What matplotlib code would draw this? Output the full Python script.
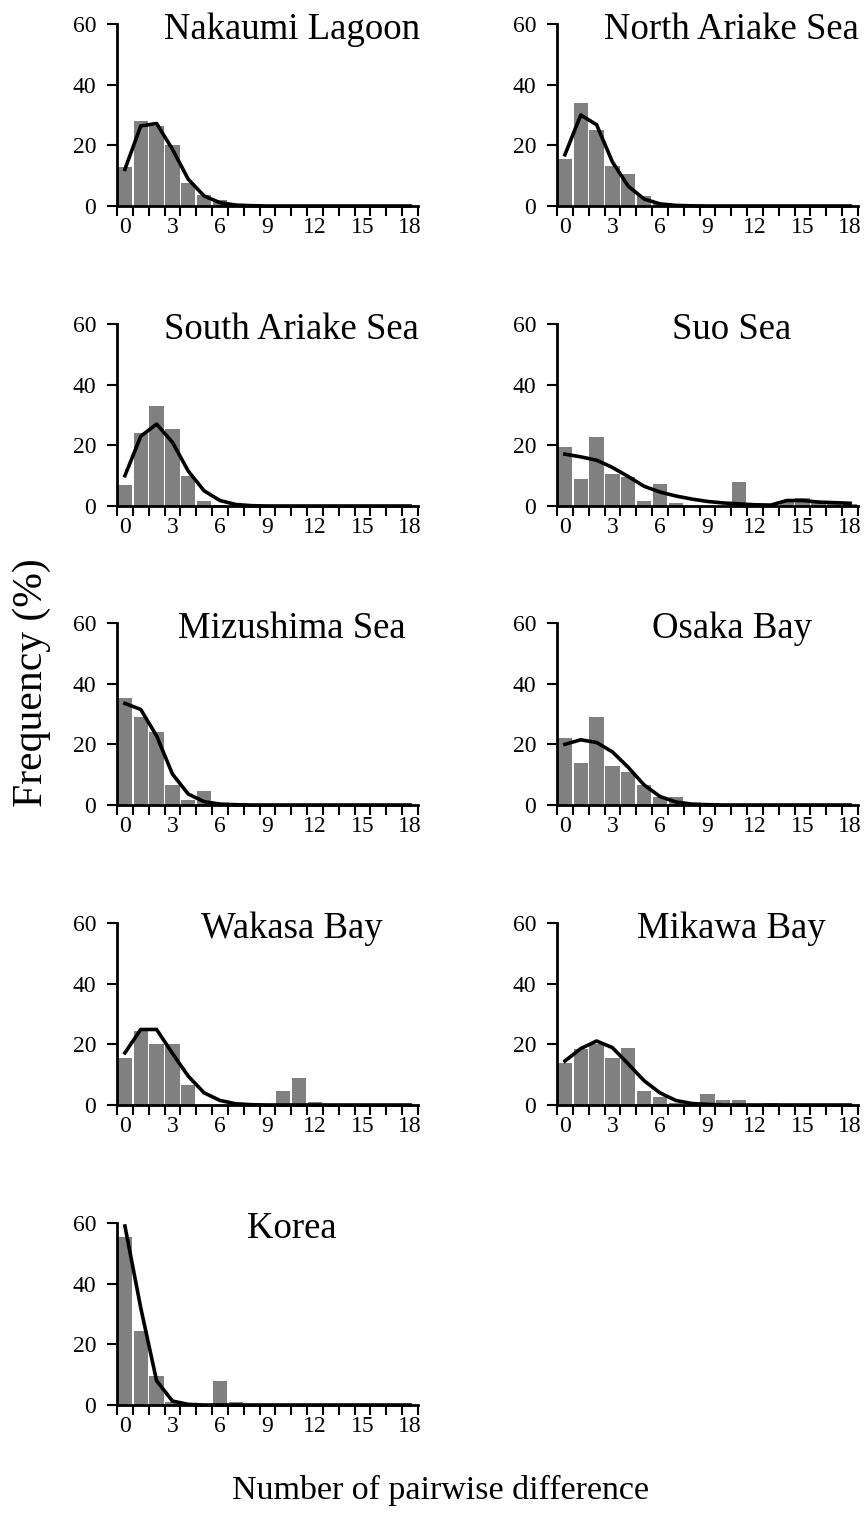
import matplotlib.pyplot as plt

plt.rcParams['font.family'] = ['Liberation Serif', 'DejaVu Serif']

# number of pairwise differences (categories)
diffs = list(range(19))
tick_labels = ['0', '3', '6', '9', '12', '15', '18']

sites = ['Nakaumi Lagoon', 'North Ariake Sea', 'South Ariake Sea', 'Suo Sea',
         'Mizushima Sea', 'Osaka Bay', 'Wakasa Bay', 'Mikawa Bay', 'Korea']

# observed frequency (%) - bars
nakaumi_obs = [12.7, 28.0, 26.4, 20.0, 7.7, 3.5, 2.0, 0.3, 0, 0, 0, 0, 0, 0, 0, 0, 0, 0, 0]
north_ariake_obs = [15.4, 34.1, 25.0, 13.2, 10.5, 3.3, 0.5, 0, 0, 0, 0, 0, 0, 0, 0, 0, 0, 0, 0]
south_ariake_obs = [7.0, 24.0, 33.0, 25.5, 10.0, 1.5, 0.3, 0, 0, 0, 0, 0, 0, 0, 0, 0, 0, 0, 0]
suo_obs = [19.3, 8.8, 22.9, 10.7, 9.6, 1.7, 7.1, 0.9, 0, 0, 0, 7.8, 0.2, 0, 1.5, 2.5, 1.2, 0.8, 0.8]
mizushima_obs = [35.4, 29.1, 24.1, 6.7, 1.6, 4.5, 0, 0, 0, 0, 0, 0, 0, 0, 0, 0, 0, 0, 0]
osaka_obs = [22.2, 14.0, 29.1, 12.9, 11.0, 6.6, 2.5, 2.5, 0, 0, 0, 0, 0, 0, 0, 0, 0, 0, 0]
wakasa_obs = [15.6, 24.5, 20.0, 20.0, 6.5, 0, 0, 0, 0, 0, 4.5, 9.0, 1.0, 0, 0, 0, 0, 0, 0]
mikawa_obs = [14.0, 18.6, 20.0, 15.4, 18.9, 4.5, 2.5, 0.5, 0, 3.5, 1.5, 1.5, 0, 0.5, 0, 0, 0, 0, 0]
korea_obs = [55.5, 24.5, 9.7, 1.0, 0, 0, 8.0, 1.0, 0.3, 0, 0, 0, 0, 0, 0, 0, 0, 0, 0]

# expected frequency (%) - lines
nakaumi_exp = [12.1, 26.4, 27.2, 18.7, 8.8, 3.3, 1.1, 0.3, 0.1, 0, 0, 0, 0, 0, 0, 0, 0, 0, 0]
north_ariake_exp = [16.9, 30.0, 26.8, 14.5, 6.5, 2.3, 0.7, 0.2, 0.05, 0, 0, 0, 0, 0, 0, 0, 0, 0, 0]
south_ariake_exp = [10.0, 23.0, 27.0, 21.0, 11.5, 5.0, 1.8, 0.5, 0.1, 0, 0, 0, 0, 0, 0, 0, 0, 0, 0]
suo_exp = [17.1, 16.2, 15.1, 12.7, 9.7, 6.5, 4.6, 3.3, 2.3, 1.5, 1.0, 0.7, 0.4, 0.3, 1.8, 1.8, 1.3, 1.1, 0.9]
mizushima_exp = [33.5, 31.5, 22.8, 10.2, 3.6, 1.1, 0.3, 0.1, 0, 0, 0, 0, 0, 0, 0, 0, 0, 0, 0]
osaka_exp = [20.0, 21.5, 20.6, 17.5, 12.4, 6.6, 2.8, 1.0, 0.3, 0.1, 0, 0, 0, 0, 0, 0, 0, 0, 0]
wakasa_exp = [17.2, 24.9, 24.9, 17.0, 9.5, 4.0, 1.5, 0.4, 0.1, 0, 0, 0, 0, 0, 0, 0, 0, 0, 0]
mikawa_exp = [14.5, 18.6, 21.1, 18.9, 13.5, 8.0, 4.0, 1.5, 0.5, 0.2, 0, 0, 0, 0, 0, 0, 0, 0, 0]
korea_exp = [59.0, 32.0, 8.0, 1.3, 0.2, 0, 0, 0, 0, 0, 0, 0, 0, 0, 0, 0, 0, 0, 0]

observed = [nakaumi_obs, north_ariake_obs, south_ariake_obs, suo_obs, mizushima_obs,
            osaka_obs, wakasa_obs, mikawa_obs, korea_obs]
expected = [nakaumi_exp, north_ariake_exp, south_ariake_exp, suo_exp, mizushima_exp,
            osaka_exp, wakasa_exp, mikawa_exp, korea_exp]

W, H = 868, 1524
fig = plt.figure(figsize=(W / 100, H / 100), dpi=100)

col_left = [117, 557]
row_top = [24, 324, 623, 923, 1223]
ax_w, ax_h = 301, 182

for i, site in enumerate(sites):
    r, c = divmod(i, 2)
    x0 = col_left[c] / W
    y0 = 1 - (row_top[r] + ax_h) / H
    ax = fig.add_axes([x0, y0, ax_w / W, ax_h / H])

    ax.bar(diffs, observed[i], width=0.9, color='#808080', zorder=1)
    ax.plot(diffs, expected[i], color='black', lw=2.6, zorder=2, clip_on=False)

    ax.set_xlim(-0.5, 18.5)
    ax.set_ylim(0, 60)
    ax.set_yticks([0, 20, 40, 60])
    ax.set_xticks(diffs[::3])
    ax.set_xticklabels(tick_labels)
    ax.set_xticks([d - 0.5 for d in diffs] + [18.5], minor=True)
    ax.tick_params(axis='x', which='major', length=0, pad=8, labelsize=17)
    ax.tick_params(axis='x', which='minor', length=7, width=1.5, direction='out')
    ax.tick_params(axis='y', length=7, width=1.5, pad=8, labelsize=17)

    for s in ['top', 'right']:
        ax.spines[s].set_visible(False)
    for s in ['left', 'bottom']:
        ax.spines[s].set_linewidth(2)

    ax.text(0.58, 0.97, site, transform=ax.transAxes, ha='center', va='center',
            fontsize=26.5)

fig.text(32 / W, 1 - 683 / H, 'Frequency (%)', rotation=90, ha='center', va='center',
         fontsize=30)
fig.text(440 / W, 1 - 1490 / H, 'Number of pairwise difference', ha='center',
         va='center', fontsize=24.5)

fig.savefig('out.png', dpi=100)
